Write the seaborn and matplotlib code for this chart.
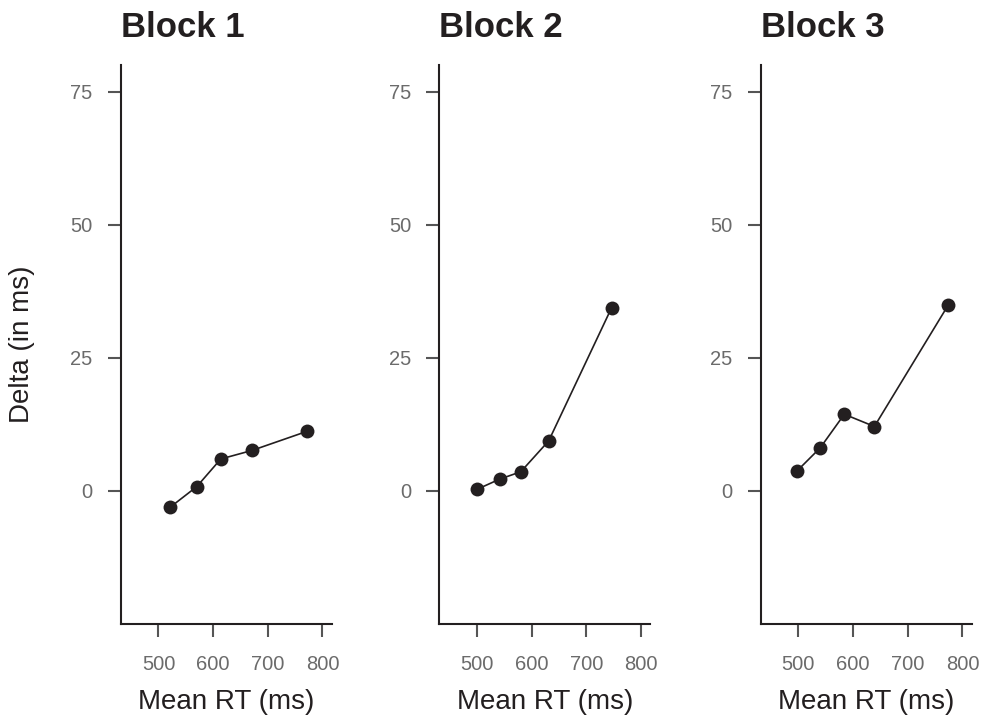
import pandas as pd
import seaborn as sns
import matplotlib.pyplot as plt

# Valores (Mean RT vs Delta por bloque)
blocks = ['Block 1', 'Block 2', 'Block 3']
rt_block1 = [521, 570, 614, 671, 772]
delta_block1 = [-3.1, 0.8, 6.0, 7.6, 11.2]
rt_block2 = [500, 541, 580, 631, 746]
delta_block2 = [0.3, 2.2, 3.6, 9.4, 34.4]
rt_block3 = [498, 540, 584, 639, 774]
delta_block3 = [3.8, 8.1, 14.4, 12.1, 34.9]

x_ticks = [500, 600, 700, 800]
y_ticks = [0, 25, 50, 75]

data = pd.DataFrame({
    'block': [blocks[0]] * 5 + [blocks[1]] * 5 + [blocks[2]] * 5,
    'rt': rt_block1 + rt_block2 + rt_block3,
    'delta': delta_block1 + delta_block2 + delta_block3,
})

sns.set_style('ticks')
plt.rcParams['font.family'] = ['Liberation Sans', 'DejaVu Sans']

ink = '#231f20'
grey = '#6b6b6b'

fig = plt.figure(figsize=(9.88, 7.17), dpi=100)
lefts = [0.1222, 0.4447, 0.7699]

for i, name in enumerate(blocks):
    ax = fig.add_axes([lefts[i], 0.1297, 0.2136, 0.7796])
    sub = data[data['block'] == name]
    sns.lineplot(data=sub, x='rt', y='delta', ax=ax, sort=False,
                 color=ink, linewidth=1.2, marker='o', markersize=10,
                 markeredgewidth=0)
    ax.set_xlim(431, 817)
    ax.set_ylim(-25, 80)
    ax.set_xticks(x_ticks)
    ax.set_yticks(y_ticks)
    sns.despine(ax=ax)
    for side in ['left', 'bottom']:
        ax.spines[side].set_linewidth(1.5)
        ax.spines[side].set_color(ink)
    ax.tick_params(axis='both', length=9.4, width=1.5, color='#555555',
                   labelcolor=grey, labelsize=14.5)
    ax.tick_params(axis='x', pad=13)
    ax.tick_params(axis='y', pad=11)
    ax.set_xlabel('Mean RT (ms)', fontsize=20, color=ink, labelpad=11)
    if i == 0:
        ax.set_ylabel('Delta (in ms)', fontsize=20, color=ink, labelpad=25)
    else:
        ax.set_ylabel('')
    ax.set_title(name, loc='left', fontsize=25, fontweight='bold',
                 color=ink, pad=20)

fig.savefig('out.png', dpi=100)
